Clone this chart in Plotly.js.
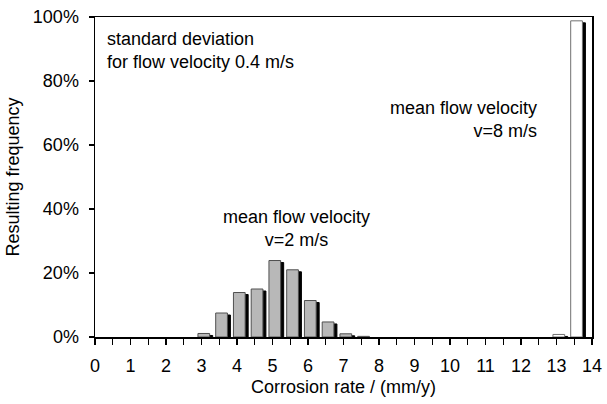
<!DOCTYPE html>
<html>
<head>
<meta charset="utf-8">
<script src="https://cdn.plot.ly/plotly-3.0.1.min.js"></script>
<style>
html,body{margin:0;padding:0;background:#fff;}
#chart{width:607px;height:404px;}
.barlayer .point path{filter:drop-shadow(3px 2.5px 0 #000);}
</style>
</head>
<body>
<div id="chart"></div>
<script>
// Corrosion rate bins (mm/y) and resulting frequencies (%)
var ratesV2 = [3.0, 3.5, 4.0, 4.5, 5.0, 5.5, 6.0, 6.5, 7.0, 7.5];
var freqV2  = [1.1, 7.5, 13.9, 15.0, 23.9, 21.0, 11.4, 4.7, 1.0, 0.2];
var ratesV8 = [13.0, 13.5];
var freqV8  = [0.8, 98.8];
var xTickVals = [0,1,2,3,4,5,6,7,8,9,10,11,12,13,14];
var xTickText = ["0","1","2","3","4","5","6","7","8","9","10","11","12","13","14"];
var yTickVals = [0,20,40,60,80,100];
var yTickText = ["0%","20%","40%","60%","80%","100%"];

var font = {family: "Liberation Sans, Arial, sans-serif", size: 18, color: "#000"};

var traces = [
  {type: "bar", x: ratesV2, y: freqV2, offset: -0.1, width: 0.33,
   marker: {color: "#b8b8b8", line: {color: "#505050", width: 1}},
   hoverinfo: "skip", showlegend: false},
  {type: "bar", x: ratesV8, y: freqV8, offset: -0.1, width: 0.33,
   marker: {color: "#ffffff", line: {color: "#707070", width: 1}},
   hoverinfo: "skip", showlegend: false}
];

var layout = {
  width: 607, height: 404,
  margin: {l: 95, r: 15, t: 17, b: 67, pad: 0},
  paper_bgcolor: "#fff", plot_bgcolor: "#fff",
  barmode: "overlay",
  font: font,
  showlegend: false,
  xaxis: {
    range: [0, 14], tickvals: xTickVals, ticktext: xTickText,
    ticks: "outside", ticklen: 6, tickwidth: 1.2, tickcolor: "#000",
    minor: {dtick: 0.5, tick0: 0, ticks: "outside", ticklen: 6, tickwidth: 1.2, tickcolor: "#000", showgrid: false},
    showline: true, linecolor: "#000", linewidth: 1.5, mirror: true,
    showgrid: false, zeroline: false, ticklabelstandoff: 6,
    tickfont: font,
    title: {text: "Corrosion rate / (mm/y)", font: font, standoff: 5}
  },
  yaxis: {
    range: [0, 100], tickvals: yTickVals, ticktext: yTickText,
    ticks: "outside", ticklen: 5, tickwidth: 1.2, tickcolor: "#000",
    showline: true, linecolor: "#000", linewidth: 1.5, mirror: true,
    showgrid: false, zeroline: false, ticklabelstandoff: 6,
    tickfont: font,
    title: {text: "Resulting frequency", font: font, standoff: 8}
  },
  annotations: [
    {xref: "paper", yref: "paper", x: 0.02, y: 0.968, xanchor: "left", yanchor: "top", align: "left",
     text: "standard deviation<br>for flow velocity 0.4 m/s", showarrow: false, font: font},
    {xref: "x", yref: "y", x: 5.67, y: 33.8, xanchor: "center", yanchor: "middle", align: "center",
     text: "mean flow velocity<br>v=2 m/s", showarrow: false, font: font},
    {xref: "x", yref: "y", x: 12.5, y: 68, xanchor: "right", yanchor: "middle", align: "right",
     text: "mean flow velocity<br>v=8 m/s", showarrow: false, font: font}
  ]
};

Plotly.newPlot("chart", traces, layout, {displayModeBar: false, staticPlot: true});
</script>
</body>
</html>
